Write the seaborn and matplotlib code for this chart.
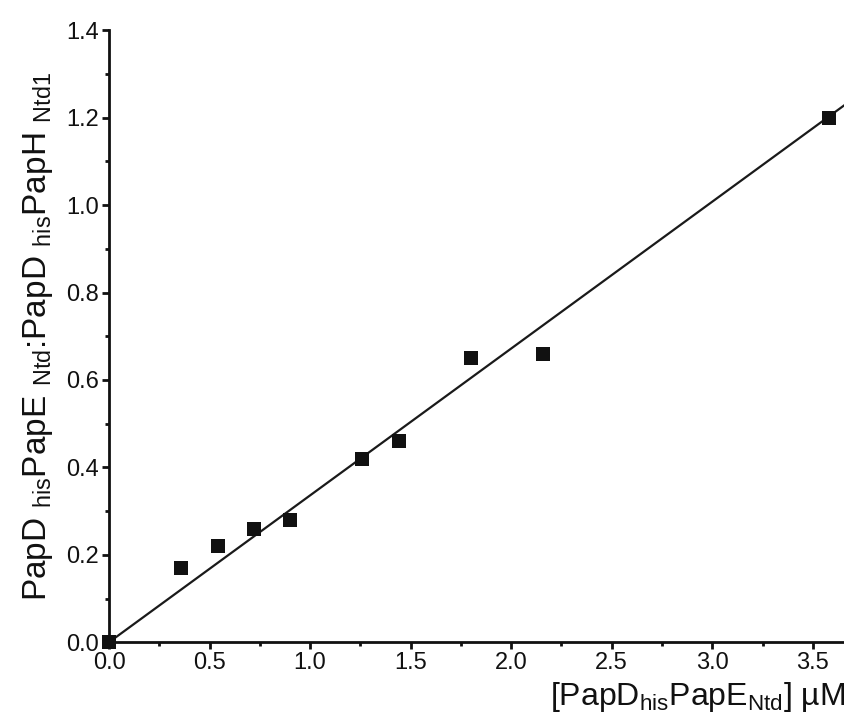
import matplotlib
matplotlib.use("Agg")
import matplotlib.pyplot as plt
import seaborn as sns
import pandas as pd
from matplotlib.ticker import MultipleLocator

# Measured points
conc = [0.0, 0.36, 0.54, 0.72, 0.90, 1.26, 1.44, 1.80, 2.16, 3.58]
ratio = [0.0, 0.17, 0.22, 0.26, 0.28, 0.42, 0.46, 0.65, 0.66, 1.20]

# Linear fit line end points
fit_x = [0.0, 3.70]
fit_y = [0.0, 1.243]

df = pd.DataFrame({"conc": conc, "ratio": ratio})
fit = pd.DataFrame({"x": fit_x, "y": fit_y})

sns.set_style("ticks")
plt.rcParams["font.family"] = ["Liberation Sans", "DejaVu Sans"]
plt.rcParams["mathtext.fontset"] = "custom"
plt.rcParams["mathtext.rm"] = "Liberation Sans"

fig = plt.figure(figsize=(8.45, 7.2), dpi=100)
ax = fig.add_axes([0.129, 0.108, 0.871, 0.850])

sns.lineplot(data=fit, x="x", y="y", color="#1a1a1a", linewidth=1.6, ax=ax)
sns.scatterplot(data=df, x="conc", y="ratio", marker="s", s=110, color="#111111",
                edgecolor="#111111", linewidth=0, clip_on=False, zorder=5, ax=ax)

ax.set_xlim(0, 3.66)
ax.set_ylim(0, 1.4)
ax.xaxis.set_major_locator(MultipleLocator(0.5))
ax.xaxis.set_minor_locator(MultipleLocator(0.25))
ax.yaxis.set_major_locator(MultipleLocator(0.2))
ax.yaxis.set_minor_locator(MultipleLocator(0.1))
ax.xaxis.set_major_formatter(plt.FormatStrFormatter("%.1f"))
ax.yaxis.set_major_formatter(plt.FormatStrFormatter("%.1f"))

for side in ["top", "right"]:
    ax.spines[side].set_visible(False)
for side in ["left", "bottom"]:
    ax.spines[side].set_linewidth(2.0)
    ax.spines[side].set_color("#111111")

ax.tick_params(which="major", length=5, width=2, direction="out", labelsize=17,
               colors="#111111", pad=2)
ax.tick_params(which="minor", length=3, width=2, direction="out", colors="#111111")

ax.set_xlabel(r"[PapD$_{\mathregular{his}}$PapE$_{\mathregular{Ntd}}$] µM",
              fontsize=23, loc="right", labelpad=4, color="#111111")
ax.set_ylabel(r"PapD $_{\mathregular{his}}$PapE $_{\mathregular{Ntd}}$:PapD $_{\mathregular{his}}$PapH $_{\mathregular{Ntd1}}$",
              fontsize=24, labelpad=8, color="#111111")

plt.savefig("out.png", dpi=100)
